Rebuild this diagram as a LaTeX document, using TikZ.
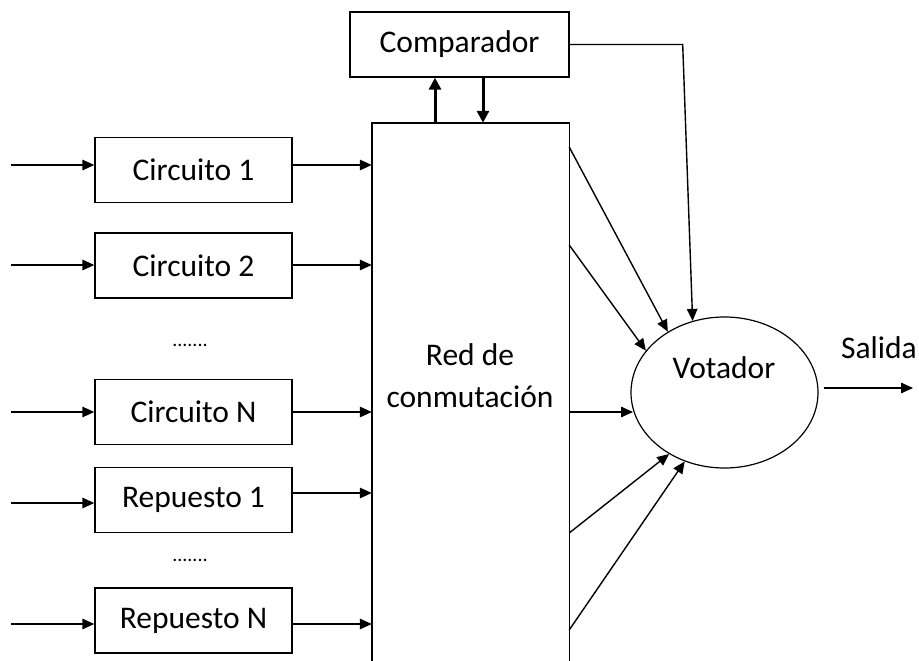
\documentclass[tikz,border=0pt]{standalone}
\usepackage{fontspec}
\setmainfont{Carlito}
\usetikzlibrary{arrows.meta,shapes.geometric}
\begin{document}
\begin{tikzpicture}[x=1pt,y=-1pt,
  txtfont/.style={font=\fontsize{31.5}{42}\selectfont},
  box/.style={draw,line width=1.4pt,minimum width=197pt,minimum height=65pt,inner sep=0pt,txtfont},
  lbl/.style={inner sep=0pt,txtfont},
  dotsfont/.style={inner sep=0pt,font=\fontsize{20}{24}\selectfont},
  arr/.style={line width=1.4pt,-{Triangle[length=12pt,width=10.5pt]}},
  tarr/.style={line width=3pt,-{Triangle[length=12pt,width=12pt]}}]
\useasboundingbox (0,0) rectangle (919,661);

% switching network (open at the bottom)
\node[minimum width=197pt,minimum height=538pt,inner sep=0pt] (red) at (470.5,392) {};
\draw[line width=1.4pt] (red.south west) -- (red.north west) -- (red.north east) -- (red.south east);
\node[lbl,align=center] (redtxt) at (470,376) {Red de\\conmutación};

% comparator
\node[box,minimum width=219pt] (comp) at (459.5,44.5) {Comparador};
\draw[tarr] (red.north -| 435,0) -- (comp.south -| 435,0);
\draw[tarr] (comp.south -| 483,0) -- (red.north -| 483,0);

% voter
\node[draw,ellipse,minimum width=187pt,minimum height=151pt,inner sep=0pt,line width=1.2pt] (vot) at (724.5,392.5) {};
\node[lbl] (vottxt) at (724,368) {Votador};
\draw[arr] (comp.east) -- ++(113,0) -- (vot.114);

% output
\node[lbl] (sal) at (879,348) {Salida};
\coordinate (out) at (913,388);
\draw[arr,shorten <=5pt] (vot.east |- out) -- (out);

% modules
\node[box] (c1) at (193.5,170) {Circuito 1};
\node[box] (c2) at (193.5,265.5) {Circuito 2};
\node[dotsfont] (d1) at (190,345) {.......};
\node[box] (cN) at (193.5,412) {Circuito N};
\node[box] (r1) at (193.5,500) {Repuesto 1};
\node[dotsfont] (d2) at (190,560) {.......};
\node[box] (rN) at (193.5,620.5) {Repuesto N};

\coordinate (i1) at (11,165);
\coordinate (i2) at (11,265);
\coordinate (iN) at (11,412);
\coordinate (ir1) at (11,503);
\coordinate (irN) at (11,624);

\draw[arr] (i1) -- (c1.west |- i1);
\draw[arr] (i2) -- (c2.west |- i2);
\draw[arr] (iN) -- (cN.west |- iN);
\draw[arr] (ir1) -- (r1.west |- ir1);
\draw[arr] (irN) -- (rN.west |- irN);

\draw[arr] (c1.east |- i1) -- (red.west |- i1);
\draw[arr] (c2.east |- i2) -- (red.west |- i2);
\draw[arr] (cN.east |- iN) -- (red.west |- iN);
\draw[arr] (r1.east |- 0,493) -- (red.west |- 0,493);
\draw[arr] (rN.east |- irN) -- (red.west |- irN);

% network to voter
\draw[arr] (red.east |- 0,147) -- (vot.133.6);
\draw[arr] (red.east |- 0,245) -- (vot.152.7);
\draw[arr] (red.east |- 0,412) -- (vot.191.8 |- 0,412);
\draw[arr] (red.east |- 0,533) -- (vot.228.6);
\draw[arr] (red.east |- 0,630) -- (vot.240.6);
\end{tikzpicture}
\end{document}
